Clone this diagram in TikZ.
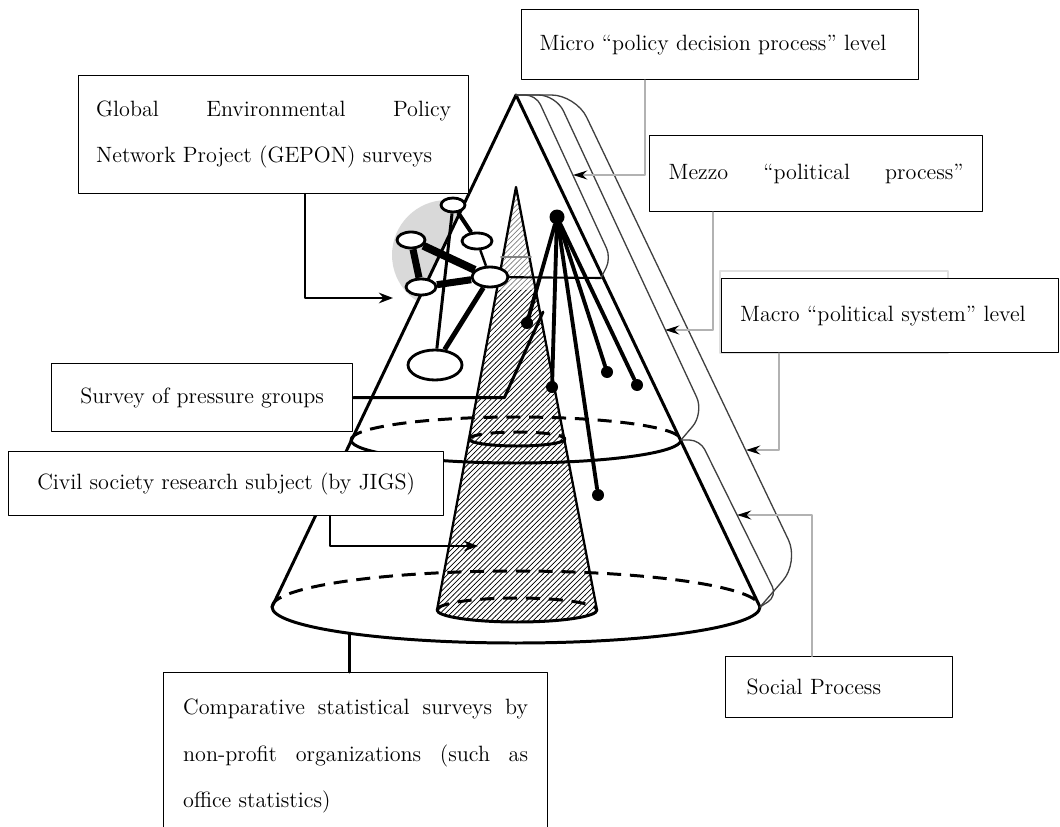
\documentclass[tikz,border=0pt]{standalone}
\usepackage{fontspec}
\usepackage{tikz}
\usetikzlibrary{arrows.meta,shapes.geometric,patterns}

\tikzset{
  lblbox/.style={draw,fill=white,line width=0.8pt,inner sep=0pt,anchor=north west,
    font=\fontsize{12.6}{26.5}\selectfont},
  netnode/.style={ellipse,draw,fill=white,line width=1.6pt,inner sep=0pt},
  blackdot/.style={circle,fill=black,inner sep=0pt,minimum size=0.24cm},
  coneline/.style={line width=1.7pt},
  backline/.style={line width=1.7pt,dash pattern=on 8pt off 5pt,line cap=butt},
  spoke/.style={line width=2.2pt},
  bracket/.style={draw=black!75,line width=0.75pt},
  gline/.style={draw=gray!60,line width=1.3pt,-{Stealth[black,length=8pt,width=5pt]}},
  bline/.style={line width=1.7pt,-{Stealth[length=8pt,width=6pt]}}
}

\begin{document}
\begin{tikzpicture}[line cap=round,line join=round,x=0.02cm,y=-0.02cm]
\useasboundingbox (0,0) rectangle (1060,827);
\coordinate (apex) at (516,95);
\coordinate (bl) at (272,607);
\coordinate (br) at (760,607);
\coordinate (ml) at (351,440);
\coordinate (mr) at (681,440);
\coordinate (top) at (516,187);
\coordinate (il) at (437,610);
\coordinate (ir) at (597,610);
\coordinate (uml) at (601,278);

% grey disc behind the network (outside the cone only)
\begin{scope}
\clip (380,0) -- (apex) -- (bl) -- (0,607) -- (0,0) -- cycle;
\fill[gray!30] (447,255) circle (55);
\end{scope}

% hatched inner cone
\begin{scope}
\clip (0,0) rectangle (1060,290);
\fill[pattern=north east lines,pattern color=gray] (top) -- (il) arc[start angle=180,end angle=0,x radius=80,y radius=12] -- cycle;
\end{scope}
\begin{scope}
\clip (0,290) rectangle (1060,827);
\fill[pattern=north east lines] (top) -- (il) arc[start angle=180,end angle=0,x radius=80,y radius=12] -- cycle;
\end{scope}

% big cone
\draw[coneline] (bl) -- (apex) -- (br);
\draw[coneline] (bl) arc[start angle=180,end angle=0,x radius=244,y radius=36];
\draw[backline] (bl) arc[start angle=180,end angle=360,x radius=244,y radius=36];
\draw[coneline] (ml) arc[start angle=180,end angle=0,x radius=165,y radius=23];
\draw[backline] (ml) arc[start angle=180,end angle=360,x radius=165,y radius=23];

% inner cone
\draw[line width=1.3pt] (il) -- (top) -- (ir);
\draw[coneline] (il) arc[start angle=180,end angle=0,x radius=80,y radius=12];
\draw[backline] (il) arc[start angle=180,end angle=360,x radius=80,y radius=12];
\draw[coneline] (469,439) arc[start angle=180,end angle=0,x radius=48,y radius=7];
\draw[backline] (469,439) arc[start angle=180,end angle=360,x radius=48,y radius=7];
\draw[gray,line width=1pt] (501,257) -- (531,257);

% network
\node[netnode,minimum width=0.48cm,minimum height=0.28cm] (n1) at (453,205) {};
\node[netnode,minimum width=0.56cm,minimum height=0.32cm] (n2) at (411,240) {};
\node[netnode,minimum width=0.6cm,minimum height=0.32cm] (n3) at (477,241) {};
\node[netnode,minimum width=0.72cm,minimum height=0.4cm] (n4) at (490,277) {};
\node[netnode,minimum width=0.6cm,minimum height=0.32cm] (n5) at (421,287) {};
\node[netnode,minimum width=1.08cm,minimum height=0.6cm] (n6) at (435,365) {};
\draw[line width=2.3pt,line cap=butt] (n1) -- (n3);
\draw[line width=1.7pt,line cap=butt] (n1) -- (n6);
\draw[line width=4pt,line cap=butt] (n2) -- (n5);
\draw[line width=4.5pt,line cap=butt] (n2) -- (n4);
\draw[line width=4pt,line cap=butt] (n5) -- (n4);
\draw[line width=1.4pt,line cap=butt] (n3) -- (n4);
\draw[line width=2.8pt,line cap=butt] (n4) -- (n6);
\draw[line width=1.2pt] (n4) -- (uml);

% policy decision hub
\node[blackdot,minimum size=0.3cm] (hub) at (557,217) {};
\node[blackdot] (d1) at (527,323) {};
\node[blackdot] (d2) at (552,387) {};
\node[blackdot] (d3) at (598,495) {};
\node[blackdot] (d4) at (607,372) {};
\node[blackdot] (d5) at (637,385) {};
\foreach \i in {1,...,5} \draw[spoke] (hub) -- (d\i);

% level brackets
\draw[bracket,rounded corners=6pt] (apex) -- (536,95) -- (611,258) -- (uml);
\draw[bracket,rounded corners=10pt] (apex) -- (556,95) -- (704,413) -- (mr);
\draw[bracket,rounded corners=14pt] (apex) -- (576,95) -- (799,562) -- (br);
\draw[bracket,rounded corners=6pt] (mr) -- (700,440) -- (777,596) -- (br);

% labels
\draw[gray!25,line width=0.8pt] (720,271) rectangle (948,353);
\node[lblbox,minimum width=7.94cm,minimum height=1.4cm,text width=7.22cm] (micro) at (521,9) {Micro ``policy decision process'' level};
\node[lblbox,minimum width=6.66cm,minimum height=1.52cm,text width=5.9cm] (mezzo) at (649,135) {\makebox[5.9cm]{Mezzo\hfill``political\hfill process''}};
\node[lblbox,minimum width=6.74cm,minimum height=1.48cm,text width=6.0cm] (macro) at (721,278) {Macro ``political system'' level};
\node[lblbox,minimum width=7.8cm,minimum height=2.36cm,text width=7.1cm,align=justify] (gepon) at (78,75) {Global Environmental Policy\linebreak Network Project (GEPON) surveys};
\node[lblbox,minimum width=6.02cm,minimum height=1.36cm,align=center] (survey) at (51,363) {Survey of pressure groups};
\node[lblbox,minimum width=8.7cm,minimum height=1.28cm,align=center] (civil) at (8,451) {Civil society research subject (by JIGS)};
\node[lblbox,minimum width=7.68cm,minimum height=3.34cm,text width=6.9cm,align=justify] (compar) at (163,672) {Comparative statistical surveys by\linebreak non-profit organizations (such as\linebreak office statistics)};
\node[lblbox,minimum width=4.54cm,minimum height=1.22cm,text width=3.7cm] (social) at (725,656) {Social Process};

% connectors
\coordinate (mic) at (573,175);
\coordinate (mez) at (665,330);
\coordinate (mac) at (746,450);
\coordinate (soc) at (737,515);
\coordinate (gep) at (393,298);
\coordinate (svy) at (543,312);
\coordinate (civ) at (478,546);
\coordinate (cmp) at (349,634);
\draw[gline] (micro.south west) ++(124,0) |- (mic);
\draw[gline] (mezzo.south west) ++(64,0) |- (mez);
\draw[gline] (macro.south west) ++(58,0) |- (mac);
\draw[gline] (social.north west) ++(87,0) |- (soc);
\draw[bline] (gepon.south west) ++(227,0) |- (gep);
\draw[line width=1.7pt] (survey.east) -- ++(151,0) -- (svy);
\draw[bline] (civil.south west) ++(322,0) |- (civ);
\draw[line width=1.7pt] (compar.north west) ++(186,0) -- (cmp);
\end{tikzpicture}
\end{document}
